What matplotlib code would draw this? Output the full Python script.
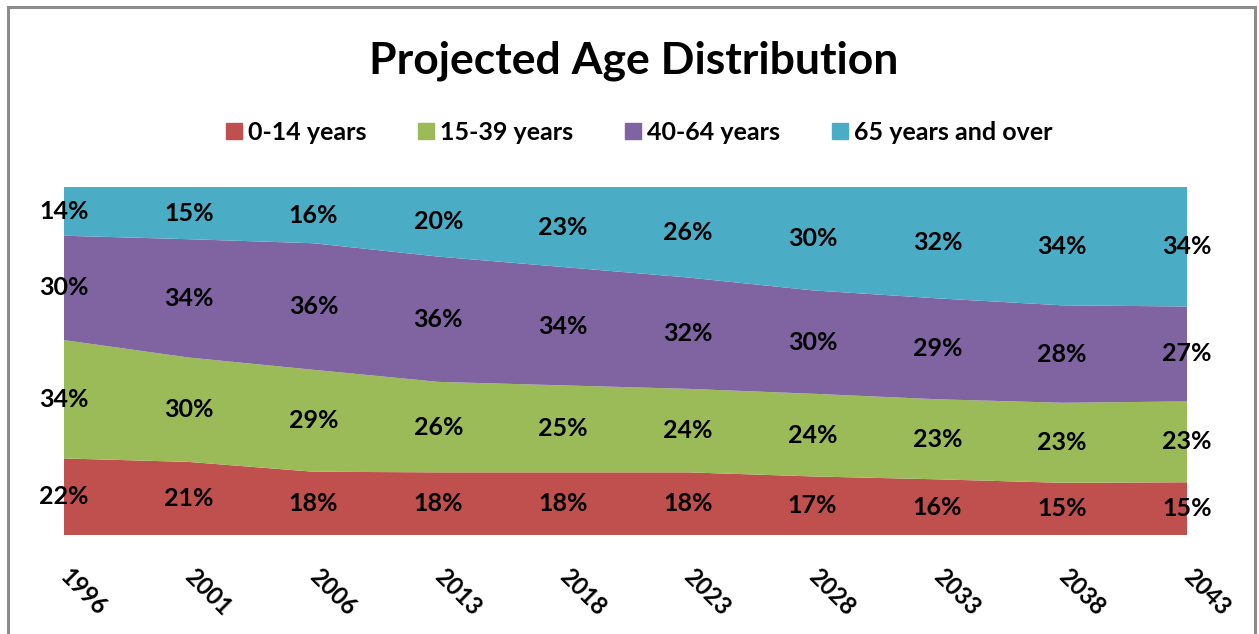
import numpy as np
import matplotlib
matplotlib.use("Agg")
import matplotlib.pyplot as plt
from matplotlib.patches import Rectangle
from matplotlib.lines import Line2D

plt.rcParams['font.family'] = ['Lato', 'DejaVu Sans']

years = ["1996", "2001", "2006", "2013", "2018", "2023", "2028", "2033", "2038", "2043"]
age_0_14 = [22, 21, 18, 18, 18, 18, 17, 16, 15, 15]
age_15_39 = [34, 30, 29, 26, 25, 24, 24, 23, 23, 23]
age_40_64 = [30, 34, 36, 36, 34, 32, 30, 29, 28, 27]
age_65_up = [14, 15, 16, 20, 23, 26, 30, 32, 34, 34]
series_names = ["0-14 years", "15-39 years", "40-64 years", "65 years and over"]
colors = ["#C0504D", "#9BBB59", "#8064A2", "#4BACC6"]

W, H = 1259, 634
fig = plt.figure(figsize=(W / 100, H / 100), dpi=100)

# outer chart border
fig.add_artist(Rectangle((8 / W, -0.05), (1255 - 8) / W, (H - 7) / H + 0.05,
                         transform=fig.transFigure, fill=False,
                         edgecolor="#8C8C8C", linewidth=2.2))

ax = fig.add_axes([64 / W, (H - 535) / H, (1187 - 64) / W, (535 - 187) / H])

data = np.array([age_0_14, age_15_39, age_40_64, age_65_up], dtype=float)
shares = data / data.sum(axis=0)
x = np.arange(len(years))

ax.stackplot(x, shares, colors=colors, linewidth=0)
ax.set_xlim(0, len(years) - 1)
ax.set_ylim(0, 1)

# percentage labels centred in each band
bottoms = np.vstack([np.zeros(len(years)), np.cumsum(shares, axis=0)[:-1]])
for i in range(len(series_names)):
    for j in range(len(years)):
        yc = bottoms[i, j] + shares[i, j] / 2
        ax.text(x[j], yc, f"{int(data[i, j])}%", ha="center", va="center",
                fontsize=18, fontweight="bold", color="black", clip_on=False)

for s in ax.spines.values():
    s.set_visible(False)
ax.set_yticks([])
ax.set_xticks(x)
ax.set_xticklabels(years, fontsize=17, fontweight="bold")
ax.tick_params(axis="x", length=0, pad=27)
for lbl in ax.get_xticklabels():
    lbl.set_rotation(-45)
    lbl.set_ha("left")
    lbl.set_va("center")
    lbl.set_rotation_mode("anchor")

fig.text(634 / W, 1 - 61 / H, "Projected Age Distribution", ha="center",
         va="center", fontsize=32, fontweight="bold")

handles = [Line2D([], [], marker="s", linestyle="none", markersize=11,
                  markerfacecolor=c, markeredgecolor=c) for c in colors]
fig.legend(handles, series_names, loc="center", bbox_to_anchor=(638 / W, 1 - 132 / H),
           ncol=4, frameon=False, prop={"size": 18, "weight": "bold"},
           handletextpad=0.15, columnspacing=2.0, handlelength=0.8)

fig.savefig("out.png", dpi=100)
